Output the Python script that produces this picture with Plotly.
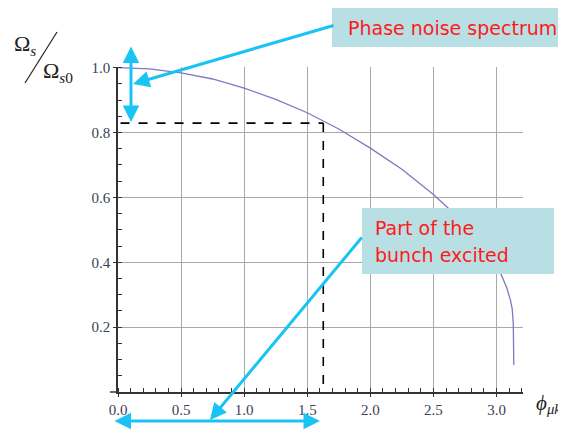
import plotly.graph_objects as go

# ---- data ----
phi = [0.0, 0.25, 0.5, 0.75, 1.0, 1.25, 1.5, 1.75, 2.0, 2.25, 2.5, 2.7,
       2.85, 2.95, 3.03, 3.08, 3.11, 3.125, 3.133, 3.136, 3.137]
ratio = [1.0, 0.996, 0.984, 0.965, 0.937, 0.902, 0.861, 0.811, 0.752, 0.687,
         0.609, 0.537, 0.472, 0.421, 0.368, 0.323, 0.284, 0.255, 0.21, 0.15, 0.083]
phi_mark = 1.627
ratio_mark = 0.829
dash_start = 0.02
x_ticks = [0.0, 0.5, 1.0, 1.5, 2.0, 2.5, 3.0]
x_labels = ["0.0", "0.5", "1.0", "1.5", "2.0", "2.5", "3.0"]
y_ticks = [0.2, 0.4, 0.6, 0.8, 1.0]
y_labels = ["0.2", "0.4", "0.6", "0.8", "1.0"]
box1_text = "Phase noise spectrum"
box2_lines = ["Part of the", "bunch excited"]

# the page body has an 8px margin, so the figure is placed at (8, 8)
OFF = 8
W, H = 566 - OFF, 435 - OFF
# plot area in page pixels: x 118..523, y 67..392
L, T = 118 - OFF, 67 - OFF
R, B = W - (523 - OFF), H - (392 - OFF)
PW, PH = W - L - R, H - T - B


def px(x):
    return (x - OFF - L) / PW


def py(y):
    return (H - B - (y - OFF)) / PH


fig = go.Figure()
fig.add_trace(go.Scatter(x=phi, y=ratio, mode="lines",
                         line=dict(color="#7b7bbf", width=1.3),
                         hoverinfo="skip", showlegend=False))
fig.add_trace(go.Scatter(x=[dash_start, phi_mark], y=[ratio_mark, ratio_mark],
                         mode="lines", line=dict(color="black", width=1.6, dash="dash"),
                         showlegend=False))
fig.add_trace(go.Scatter(x=[phi_mark, phi_mark], y=[ratio_mark, 0],
                         mode="lines", line=dict(color="black", width=1.6, dash="dash"),
                         showlegend=False))

axis_font = dict(family="Liberation Serif", size=15, color="#3a3f55")
fig.update_xaxes(range=[0, 3.21], tickvals=x_ticks, ticktext=x_labels,
                 showgrid=True, gridcolor="#a9a9a9", gridwidth=1,
                 showline=True, linecolor="#333333", linewidth=1.5,
                 ticks="outside", ticklen=3, tickcolor="#333333",
                 minor=dict(dtick=0.1, tick0=0, ticks="inside", ticklen=4,
                            tickcolor="#333333", showgrid=False),
                 tickfont=axis_font, zeroline=False, fixedrange=True)
fig.update_yaxes(range=[0, 1.002], tickvals=y_ticks, ticktext=y_labels,
                 showgrid=True, gridcolor="#a9a9a9", gridwidth=1,
                 showline=True, linecolor="#333333", linewidth=1.5,
                 ticks="outside", ticklen=3, tickcolor="#333333",
                 minor=dict(dtick=0.05, tick0=0, ticks="inside", ticklen=4,
                            tickcolor="#333333", showgrid=False),
                 tickfont=axis_font, zeroline=False, fixedrange=True)

cyan = "#19c4f4"
shapes = [
    dict(type="rect", xref="paper", yref="paper", layer="above",
         x0=px(332), x1=px(565), y0=py(47), y1=py(8),
         fillcolor="#b8dfe3", line=dict(width=0)),
    dict(type="rect", xref="paper", yref="paper", layer="above",
         x0=px(362), x1=px(554), y0=py(274), y1=py(208),
         fillcolor="#b8dfe3", line=dict(width=0)),
    # slash of y label
    dict(type="line", xref="paper", yref="paper",
         x0=px(57), y0=py(32), x1=px(25), y1=py(83),
         line=dict(color="#222222", width=1.2)),
    # short extension of x axis line to the left
    dict(type="line", xref="paper", yref="paper",
         x0=px(110), y0=0, x1=0, y1=0,
         line=dict(color="#333333", width=1.5)),
]

text_font = dict(family="DejaVu Sans", size=19, color="#ff1a1a")
serif = "Liberation Serif"
annotations = [
    dict(text=box1_text, xref="paper", yref="paper", x=px(346), y=py(28),
         xanchor="left", yanchor="middle", showarrow=False, font=text_font),
    dict(text=box2_lines[0], xref="paper", yref="paper", x=px(373), y=py(228),
         xanchor="left", yanchor="middle", showarrow=False, font=text_font),
    dict(text=box2_lines[1], xref="paper", yref="paper", x=px(373), y=py(255),
         xanchor="left", yanchor="middle", showarrow=False, font=text_font),
    # y label
    dict(text="Ω<sub><i>s</i></sub>", xref="paper", yref="paper", x=px(12), y=py(45),
         xanchor="left", yanchor="middle", showarrow=False,
         font=dict(family=serif, size=22, color="#222222")),
    dict(text="Ω<sub><i>s</i>0</sub>", xref="paper", yref="paper", x=px(41), y=py(72),
         xanchor="left", yanchor="middle", showarrow=False,
         font=dict(family=serif, size=22, color="#222222")),
    # x label
    dict(text="<i>ϕ</i><sub><i>μk</i></sub>", xref="paper", yref="paper", x=px(534), y=py(404),
         xanchor="left", yanchor="middle", showarrow=False,
         font=dict(family=serif, size=21, color="#222222")),
]

arrow_common = dict(xref="paper", yref="paper", text="", showarrow=True,
                    arrowcolor=cyan, arrowwidth=3, arrowhead=2, arrowsize=1.1,
                    axref="pixel", ayref="pixel", standoff=0, startstandoff=0)
# vertical double arrow
annotations.append(dict(x=px(131), y=py(122), ax=0, ay=-77,
                        arrowside="end+start", startarrowhead=2, startarrowsize=1.1,
                        **arrow_common))
# pointer from top box
annotations.append(dict(x=px(133), y=py(84), ax=202, ay=-59, **arrow_common))
# horizontal double arrow
annotations.append(dict(x=px(320), y=py(421), ax=-207, ay=0,
                        arrowside="end+start", startarrowhead=2, startarrowsize=1.1,
                        **arrow_common))
# pointer from lower box
annotations.append(dict(x=px(210), y=py(420), ax=153, ay=-184, **arrow_common))

fig.update_layout(width=W, height=H,
                  margin=dict(l=L, r=R, t=T, b=B, autoexpand=False),
                  plot_bgcolor="white", paper_bgcolor="white",
                  shapes=shapes, annotations=annotations, showlegend=False)
fig.write_html("out.html")
